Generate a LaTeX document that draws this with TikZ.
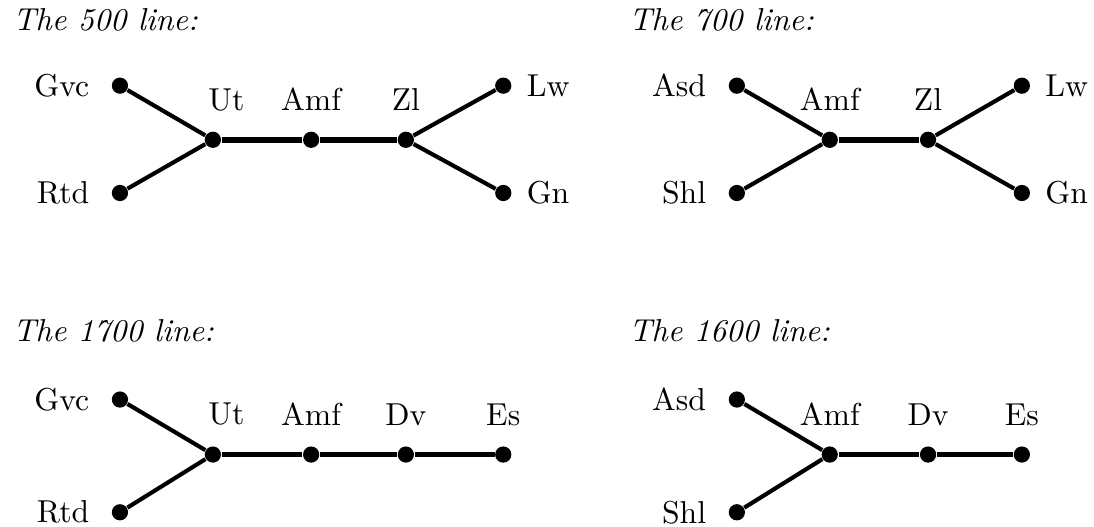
\documentclass[tikz,border=0pt]{standalone}
\usetikzlibrary{positioning}
\colorlet{penColor}{black}
\tikzset{stop/.style={circle,fill=penColor,inner sep=0pt,minimum size=1.8mm},
	linename/.style={anchor=west,font=\itshape},
	trunk/.style={penColor,line width=1.8pt},
	branch/.style={penColor,line width=1.3pt},
	every label/.style={penColor},
	label distance=1.2mm}

\begin{document}
\begin{tikzpicture}
				\useasboundingbox (0,0) rectangle (12.13,-5.84);
				% the 500 line
				\node[linename] (t500) at (0.02,-0.22) {The 500 line:};
				\node[stop,label=left:Gvc] (gvcA) at (1.33,-0.95) {};
				\node[stop,label=left:Rtd] (rtdA) at (1.33,-2.14) {};
				\node[stop,label={[xshift=1.5mm,label distance=1mm]above:Ut}] (utA) at (2.36,-1.55) {};
				\node[stop,label={[label distance=1mm]above:Amf}] (amfA) at (3.45,-1.55) {};
				\node[stop,label={[label distance=1mm]above:Zl}] (zlA) at (4.50,-1.55) {};
				\node[stop,label={[label distance=0.4mm]right:Lw}] (lwA) at (5.58,-0.95) {};
				\node[stop,label={[label distance=0.4mm]right:Gn}] (gnA) at (5.58,-2.14) {};
				\draw[branch] (gvcA) -- (utA) -- (rtdA);
				\draw[trunk] (utA) -- (amfA) -- (zlA);
				\draw[branch] (lwA) -- (zlA) -- (gnA);
				% the 700 line
				\node[linename] (t700) at (6.85,-0.22) {The 700 line:};
				\node[stop,label=left:Asd] (asdB) at (8.17,-0.95) {};
				\node[stop,label=left:Shl] (shlB) at (8.17,-2.14) {};
				\node[stop,label={[label distance=1mm]above:Amf}] (amfB) at (9.20,-1.55) {};
				\node[stop,label={[label distance=1mm]above:Zl}] (zlB) at (10.29,-1.55) {};
				\node[stop,label={[label distance=0.4mm]right:Lw}] (lwB) at (11.33,-0.95) {};
				\node[stop,label={[label distance=0.4mm]right:Gn}] (gnB) at (11.33,-2.14) {};
				\draw[branch] (asdB) -- (amfB) -- (shlB);
				\draw[trunk] (amfB) -- (zlB);
				\draw[branch] (lwB) -- (zlB) -- (gnB);
				% the 1700 line
				\node[linename] (t1700) at (0.02,-3.67) {The 1700 line:};
				\node[stop,label=left:Gvc] (gvcC) at (1.33,-4.43) {};
				\node[stop,label=left:Rtd] (rtdC) at (1.33,-5.68) {};
				\node[stop,label={[xshift=1.5mm,label distance=1mm]above:Ut}] (utC) at (2.36,-5.04) {};
				\node[stop,label={[label distance=1mm]above:Amf}] (amfC) at (3.45,-5.04) {};
				\node[stop,label={[label distance=1mm]above:Dv}] (dvC) at (4.50,-5.04) {};
				\node[stop,label={[label distance=1mm]above:Es}] (esC) at (5.58,-5.04) {};
				\draw[branch] (gvcC) -- (utC) -- (rtdC);
				\draw[trunk] (utC) -- (amfC) -- (dvC) -- (esC);
				% the 1600 line
				\node[linename] (t1600) at (6.85,-3.67) {The 1600 line:};
				\node[stop,label=left:Asd] (asdD) at (8.17,-4.43) {};
				\node[stop,label=left:Shl] (shlD) at (8.17,-5.68) {};
				\node[stop,label={[label distance=1mm]above:Amf}] (amfD) at (9.20,-5.04) {};
				\node[stop,label={[label distance=1mm]above:Dv}] (dvD) at (10.29,-5.04) {};
				\node[stop,label={[label distance=1mm]above:Es}] (esD) at (11.33,-5.04) {};
				\draw[branch] (asdD) -- (amfD) -- (shlD);
				\draw[trunk] (amfD) -- (dvD) -- (esD);
\end{tikzpicture}
\end{document}
